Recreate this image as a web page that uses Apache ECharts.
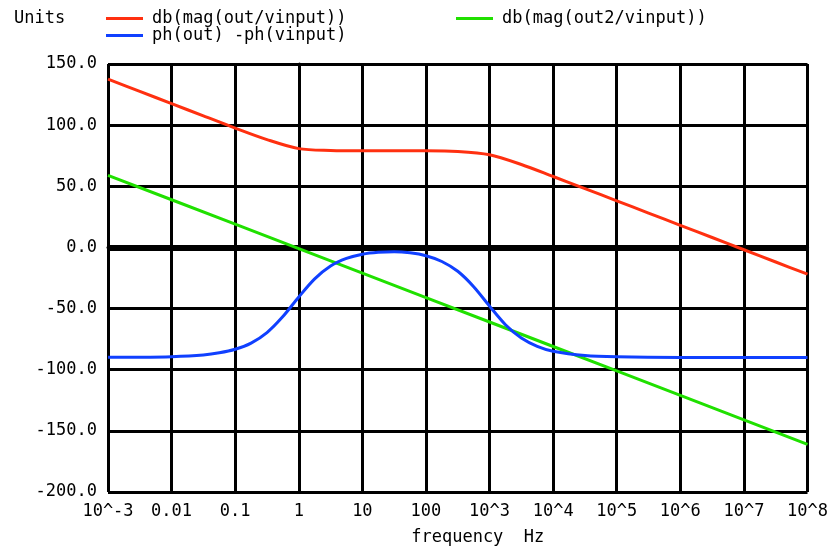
<!DOCTYPE html>
<html>
<head>
<meta charset="utf-8">
<script src="https://cdn.jsdelivr.net/npm/echarts@6/dist/echarts.min.js"></script>
<style>
  html, body { margin: 0; padding: 0; background: #fff; }
  #chart { width: 831px; height: 551px; }
</style>
</head>
<body>
<div id="chart"></div>
<script>
// x positions are decades: log10(frequency in Hz)
let xTickLabels = ['10^-3', '0.01', '0.1', '1', '10', '100', '10^3', '10^4', '10^5', '10^6', '10^7', '10^8']

let redX = [-3, -2.5, -2, -1.5, -1, -0.5, 0, 0.5, 1, 1.5, 2, 2.5, 3, 3.5, 4, 4.5, 5, 5.5, 6, 6.5, 7, 7.5, 8]
let redY = [137.6, 127.6, 117.6, 107.6, 97.6, 88.2, 80.8, 79.3, 79.0, 79.0, 79.0, 78.5, 75.8, 67.8, 58.0, 48.1, 38.1, 28.1, 18.1, 8.1, -1.9, -11.9, -21.9]

let greenX = [-3, -2, -1, 0, 1, 2, 3, 4, 5, 6, 7, 8]
let greenY = [59, 39, 19, -1, -21, -41, -61, -81, -101, -121, -141, -161]

let blueX = [-3, -2.5, -2, -1.5, -1.25, -1, -0.75, -0.5, -0.25, 0, 0.25, 0.5, 0.75, 1, 1.25, 1.5, 1.75, 2, 2.25, 2.5, 2.75, 3, 3.25, 3.5, 3.75, 4, 4.5, 5, 6, 7, 8]
let blueY = [-89.9, -89.8, -89.3, -87.9, -86.2, -83.3, -78.2, -69.6, -56.5, -40.5, -25.7, -15.2, -9.0, -5.5, -3.9, -3.5, -4.4, -6.8, -11.5, -19.5, -32.1, -48.0, -63.2, -74.1, -80.9, -84.9, -88.4, -89.5, -90, -90, -90]

let colors = ['#ff3010', '#1040ff', '#20e000']
let font = 'DejaVu Sans Mono'
let fontSize = 17

function pairs(xs, ys) {
  return xs.map(function (x, i) { return [x, ys[i]] })
}

let chart = echarts.init(document.getElementById('chart'))

let legendCommon = {
  icon: 'rect',
  itemWidth: 37,
  itemHeight: 3,
  selectedMode: false,
  textStyle: { fontFamily: font, fontSize: fontSize, color: '#000', padding: [0, 0, 0, 4] }
}

var option = {
  animation: false,
  backgroundColor: '#fff',
  title: {
    text: 'Units',
    left: 9,
    top: 5,
    textStyle: { fontFamily: font, fontSize: fontSize, fontWeight: 'normal', color: '#000' }
  },
  legend: [
    Object.assign({ left: 101, top: 5, data: ['db(mag(out/vinput))'] }, legendCommon),
    Object.assign({ left: 101, top: 22, data: ['ph(out) -ph(vinput)'] }, legendCommon),
    Object.assign({ left: 451, top: 5, data: ['db(mag(out2/vinput))'] }, legendCommon)
  ],
  grid: {
    left: 108,
    right: 23,
    top: 64,
    bottom: 57,
    containLabel: false
  },
  xAxis: {
    type: 'value',
    min: -3,
    max: 8,
    interval: 1,
    name: 'frequency  Hz',
    nameLocation: 'middle',
    nameGap: 37,
    nameTextStyle: { fontFamily: font, fontSize: fontSize, color: '#000', padding: [0, 0, 0, 40] },
    axisLine: { show: true, lineStyle: { color: '#000', width: 3 } },
    axisTick: { show: false },
    axisLabel: {
      fontFamily: font,
      fontSize: fontSize,
      color: '#000',
      margin: 11,
      formatter: function (v) { return xTickLabels[Math.round(v) + 3] }
    },
    splitLine: { show: true, lineStyle: { color: '#000', width: 3 } }
  },
  yAxis: {
    type: 'value',
    min: -200,
    max: 150,
    interval: 50,
    axisLine: { show: true, lineStyle: { color: '#000', width: 3 } },
    axisTick: { show: false },
    axisLabel: {
      fontFamily: font,
      fontSize: fontSize,
      color: '#000',
      margin: 11,
      formatter: function (v) { return v.toFixed(1) }
    },
    splitLine: { show: true, lineStyle: { color: '#000', width: 3 } }
  },
  series: [
    {
      name: 'db(mag(out/vinput))',
      type: 'line',
      smooth: 0.3,
      showSymbol: false,
      lineStyle: { width: 3, color: colors[0] },
      itemStyle: { color: colors[0] },
      data: pairs(redX, redY),
      z: 3,
      markLine: {
        silent: true,
        symbol: 'none',
        label: { show: false },
        lineStyle: { color: '#000', width: 6, type: 'solid' },
        data: [{ yAxis: 0 }],
        z: 1
      }
    },
    {
      name: 'ph(out) -ph(vinput)',
      type: 'line',
      smooth: 0.3,
      showSymbol: false,
      lineStyle: { width: 3, color: colors[1] },
      itemStyle: { color: colors[1] },
      data: pairs(blueX, blueY),
      z: 4
    },
    {
      name: 'db(mag(out2/vinput))',
      type: 'line',
      showSymbol: false,
      lineStyle: { width: 3, color: colors[2] },
      itemStyle: { color: colors[2] },
      data: pairs(greenX, greenY),
      z: 3
    }
  ]
}

chart.setOption(option)
</script>
</body>
</html>
